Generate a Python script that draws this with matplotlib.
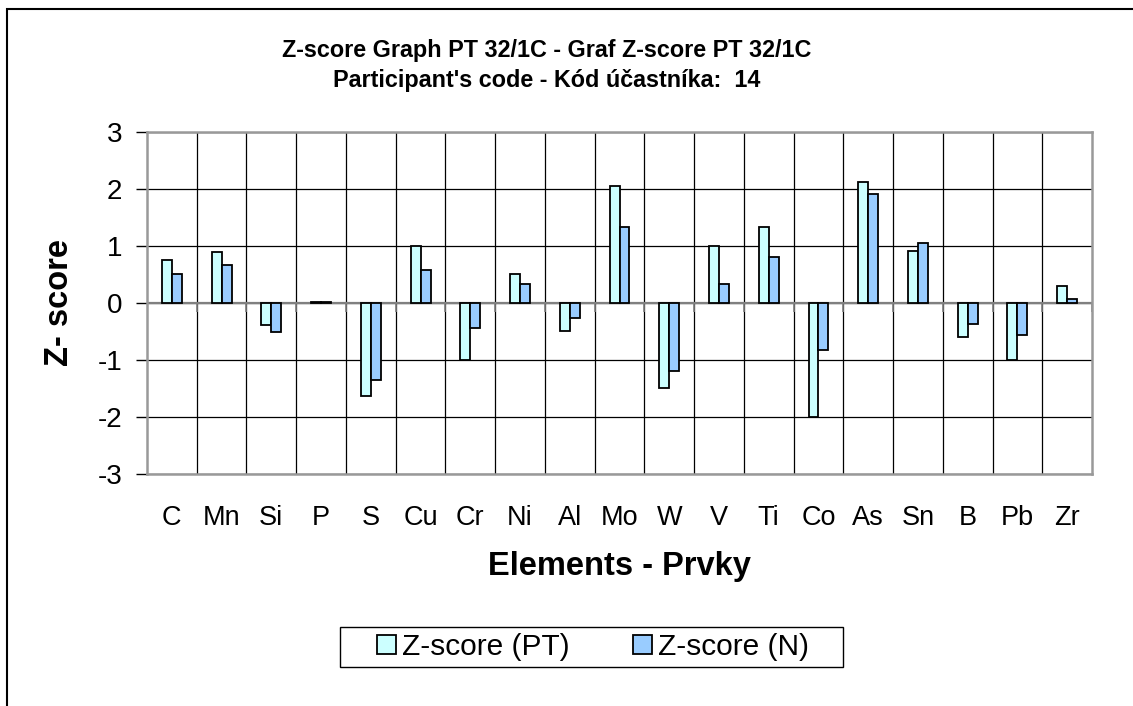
import numpy as np
import matplotlib
matplotlib.use("Agg")
import matplotlib.pyplot as plt
from matplotlib.patches import Rectangle

plt.rcParams['font.family'] = ['Liberation Sans', 'DejaVu Sans']

# values
elements = ['C', 'Mn', 'Si', 'P', 'S', 'Cu', 'Cr', 'Ni', 'Al', 'Mo',
            'W', 'V', 'Ti', 'Co', 'As', 'Sn', 'B', 'Pb', 'Zr']
z_pt = [0.75, 0.89, -0.39, 0.02, -1.64, 1.00, -1.00, 0.50, -0.50, 2.05,
        -1.50, 1.00, 1.33, -2.00, 2.11, 0.91, -0.60, -1.00, 0.29]
z_n = [0.50, 0.67, -0.52, 0.01, -1.35, 0.57, -0.44, 0.33, -0.27, 1.32,
       -1.20, 0.33, 0.81, -0.83, 1.91, 1.04, -0.37, -0.56, 0.07]
y_ticks = [-3, -2, -1, 0, 1, 2, 3]

W, H = 1133, 706
fig = plt.figure(figsize=(W / 100, H / 100), dpi=100)

# outer chart frame (runs off right/bottom edge like the source)
fig.patches.append(Rectangle((7 / W, -0.1), 1.2, 1 - 8.5 / H + 0.1,
                             transform=fig.transFigure, fill=False,
                             edgecolor='black', linewidth=1.5))

left, top, right, bottom = 147, 131.5, 1092, 474
ax = fig.add_axes([left / W, 1 - bottom / H, (right - left) / W, (bottom - top) / H])

x = np.arange(len(elements)) + 0.5
bw = 0.2
b1 = ax.bar(x - bw / 2, z_pt, bw, color='#CCFFFF', edgecolor='black', linewidth=1.3,
            label='Z-score (PT)', zorder=3)
b2 = ax.bar(x + bw / 2, z_n, bw, color='#99CCFF', edgecolor='black', linewidth=1.3,
            label='Z-score (N)', zorder=3)

ax.set_xlim(0, len(elements))
ax.set_ylim(-3, 3)
ax.set_yticks(y_ticks)
ax.set_yticklabels([str(v) for v in y_ticks], fontsize=20)
ax.set_xticks(x)
ax.set_xticklabels(elements, fontsize=19.5)
ax.tick_params(axis='x', length=0, pad=22)
ax.tick_params(axis='y', length=8, width=1, pad=10, direction='out')

# gridlines: horizontal at each unit, vertical at category borders
for v in y_ticks:
    ax.axhline(v, color='black', linewidth=0.9, zorder=1)
for b in range(1, len(elements)):
    ax.axvline(b, color='black', linewidth=0.9, zorder=1)
ax.axhline(0, color='#808080', linewidth=1.6, zorder=2)
ax.vlines(np.arange(len(elements) + 1), -0.16, 0, color='#808080', linewidth=1.2, zorder=2)

for s in ax.spines.values():
    s.set_color('#999999')
    s.set_linewidth(1.8)

ax.set_xlabel('Elements - Prvky', fontsize=23.5, fontweight='bold', labelpad=15)
ax.set_ylabel('Z- score', fontsize=23.5, fontweight='bold', labelpad=16)

fig.text(547 / W, 1 - 51 / H, 'Z-score Graph PT 32/1C - Graf Z-score PT 32/1C',
         ha='center', va='center', fontsize=16.8, fontweight='bold')
fig.text(547 / W, 1 - 80 / H, "Participant's code - Kód účastníka:  14",
         ha='center', va='center', fontsize=16.8, fontweight='bold')

# legend box drawn separately so its horizontal padding matches the source
fig.patches.append(Rectangle((340 / W, 1 - 667 / H), 503 / W, 40 / H,
                             transform=fig.transFigure, fill=False,
                             edgecolor='black', linewidth=1.0))
leg = fig.legend(handles=[b1, b2], loc='center', bbox_to_anchor=(593 / W, 1 - 647 / H),
                 ncol=2, fontsize=21.5, frameon=False,
                 handlelength=0.66, handleheight=0.6, handletextpad=0.2,
                 columnspacing=2.1, borderpad=0.2)

fig.savefig('out.png', dpi=100)
